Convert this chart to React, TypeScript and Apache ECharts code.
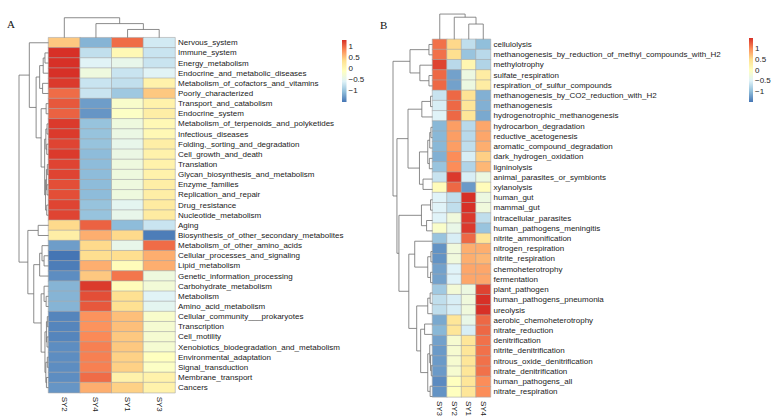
import React, { useEffect, useRef } from 'react';
import * as echarts from 'echarts';

// ---------- Panel A data ----------
const rowsA = [
  'Nervous_system', 'Immune_system', 'Energy_metabolism', 'Endocrine_and_metabolic_diseases',
  'Metabolism_of_cofactors_and_vitamins', 'Poorly_characterized', 'Transport_and_catabolism',
  'Endocrine_system', 'Metabolism_of_terpenoids_and_polyketides', 'Infectious_diseases',
  'Folding,_sorting_and_degradation', 'Cell_growth_and_death', 'Translation',
  'Glycan_biosynthesis_and_metabolism', 'Enzyme_families', 'Replication_and_repair',
  'Drug_resistance', 'Nucleotide_metabolism', 'Aging', 'Biosynthesis_of_other_secondary_metabolites',
  'Metabolism_of_other_amino_acids', 'Cellular_processes_and_signaling', 'Lipid_metabolism',
  'Genetic_information_processing', 'Carbohydrate_metabolism', 'Metabolism', 'Amino_acid_metabolism',
  'Cellular_community___prokaryotes', 'Transcription', 'Cell_motility',
  'Xenobiotics_biodegradation_and_metabolism', 'Environmental_adaptation', 'Signal_transduction',
  'Membrane_transport', 'Cancers',
];
const colsA = ['SY2', 'SY4', 'SY1', 'SY3'];
const sy2A = [0.5, 1.35, 1.45, 1.45, 1.25, 1.0, 1.1, 1.05, 1.25, 1.25, 1.2, 1.25, 1.2, 1.2, 1.15, 1.15, 1.2, 1.2,
  0.4, 0.15, -1.25, -1.5, -1.45, -1.35, -1.1, -1.1, -1.1, -1.4, -1.4, -1.4, -1.35, -1.35, -1.35, -1.35, -1.3];
const sy4A = [-1.1, -0.75, -0.55, -0.35, -0.7, -0.7, -1.25, -1.3, -1.0, -1.0, -1.0, -1.05, -1.05, -1.05, -1.05, -1.05, -1.0, -1.0,
  1.05, 0.65, 0.4, 0.37, 0.65, 0.5, 1.25, 1.15, 1.1, 0.8, 0.8, 0.85, 0.9, 0.9, 0.9, 1.0, 0.65];
const sy1A = [1.0, 0.0, -0.45, -0.7, -0.75, -0.95, -0.2, -0.15, -0.35, -0.4, -0.45, -0.4, -0.35, -0.35, -0.35, -0.35, -0.5, -0.45,
  -1.05, 0.4, -0.45, 0.37, -0.05, 0.95, -0.05, 0.35, 0.35, 0.55, 0.55, 0.5, 0.5, 0.45, 0.45, 0.1, 0.45];
const sy3A = [-0.65, -0.7, -0.7, -0.55, 0.1, 0.5, 0.1, 0.15, 0.0, 0.0, 0.15, 0.1, 0.1, 0.1, 0.15, 0.15, 0.2, 0.2,
  -0.7, -1.45, 1.0, 0.65, 0.65, -0.35, -0.3, -0.55, -0.5, -0.2, -0.25, -0.25, -0.25, -0.1, -0.15, 0.1, 0.1];
const rangeA = [-1.5, 1.3];

// ---------- Panel B data ----------
const rowsB = [
  'cellulolysis', 'methanogenesis_by_reduction_of_methyl_compounds_with_H2', 'methylotrophy',
  'sulfate_respiration', 'respiration_of_sulfur_compounds', 'methanogenesis_by_CO2_reduction_with_H2',
  'methanogenesis', 'hydrogenotrophic_methanogenesis', 'hydrocarbon_degradation', 'reductive_acetogenesis',
  'aromatic_compound_degradation', 'dark_hydrogen_oxidation', 'ligninolysis', 'animal_parasites_or_symbionts',
  'xylanolysis', 'human_gut', 'mammal_gut', 'intracellular_parasites', 'human_pathogens_meningitis',
  'nitrite_ammonification', 'nitrogen_respiration', 'nitrite_respiration', 'chemoheterotrophy',
  'fermentation', 'plant_pathogen', 'human_pathogens_pneumonia', 'ureolysis', 'aerobic_chemoheterotrophy',
  'nitrate_reduction', 'denitrification', 'nitrite_denitrification', 'nitrous_oxide_denitrification',
  'nitrate_denitrification', 'human_pathogens_all', 'nitrate_respiration',
];
const colsB = ['SY3', 'SY2', 'SY1', 'SY4'];
const sy3B = [1.15, 1.15, 1.4, 1.2, 1.2, -0.65, -0.55, -0.5, -1.05, -1.05, -1.05, -1.1, -0.95, -0.65, 0.05,
  -0.5, -0.5, -0.5, -0.1, -0.95, -1.3, -1.3, -1.2, -1.2, -0.9, -0.7, -0.7, -1.15, -1.05, -1.2, -1.25, -1.25, -1.25, -1.35, -1.3];
const sy2B = [0.55, 0.5, -0.75, -1.2, -1.2, 1.2, 1.2, 1.2, 0.9, 0.9, 0.9, 1.0, 1.0, 1.45, 1.2,
  -0.7, -0.7, -0.25, -0.35, -0.55, -0.25, -0.25, -0.5, -0.5, -0.2, -0.55, -0.55, 0.4, 0.4, -0.15, -0.15, -0.15, -0.15, 0.0, 0.0];
const sy1B = [-0.7, -0.95, 0.15, -0.3, -0.3, 0.45, 0.4, 0.4, -0.75, -0.75, -0.7, -0.55, -0.8, -0.55, -1.25,
  1.5, 1.5, 1.45, 1.45, 1.2, 0.8, 0.8, 0.85, 0.85, -0.3, -0.25, -0.25, -0.35, -0.55, 0.4, 0.4, 0.4, 0.4, 0.4, 0.4];
const sy4B = [-1.0, -0.75, -0.8, 0.3, 0.3, -1.1, -1.1, -1.15, 0.85, 0.85, 0.8, 0.6, 0.75, -0.3, 0.05,
  -0.3, -0.25, -0.7, -0.95, 0.4, 0.8, 0.75, 0.85, 0.85, 1.4, 1.5, 1.5, 1.2, 1.2, 1.15, 1.15, 1.15, 1.15, 1.0, 1.0];
const rangeB = [-1.5, 1.5];

// ---------- Dendrograms: [left, right, height] with leaves = display index ----------
type Tree = number | [Tree, Tree, number];
const rowTreeA: Tree = [
  [0, [
    [[[1, 2, 0.12], 3, 0.18], [4, 5, 0.2], 0.3],
    [[6, 7, 0.08], [[[8, 9, 0.05], [10, 11, 0.06], 0.09], [[[12, 13, 0.04], [14, 15, 0.05], 0.07], [16, 17, 0.06], 0.1], 0.13], 0.25],
    0.42], 0.65],
  [[18, 19, 0.35], [
    [[20, [21, 22, 0.15], 0.22], 23, 0.3],
    [[24, [25, 26, 0.08], 0.15], [[[27, 28, 0.04], [29, 30, 0.05], 0.07], [[31, 32, 0.04], [33, 34, 0.07], 0.09], 0.12], 0.25],
    0.5], 0.7],
  1.0];
const colTreeA: Tree = [0, [1, [2, 3, 0.38], 0.65], 0.92];
const rowTreeB: Tree = [
  [[0, 1, 0.09], [2, [3, 4, 0.09], 0.32], 0.57],
  [
    [[[5, 6, 0.05], 7, 0.27], [[[[8, 9, 0.04], 10, 0.07], [11, 12, 0.08], 0.12], [13, 14, 0.24], 0.33], 0.62],
    [[[15, 16, 0.05], [17, 18, 0.15], 0.28],
      [[19, [[20, 21, 0.04], [22, 23, 0.05], 0.12], 0.45],
        [[[24, 25, 0.06], 26, 0.12], [[27, 28, 0.2], [[29, [30, [31, 32, 0.03], 0.05], 0.07], [33, 34, 0.06], 0.12], 0.3], 0.4],
        0.6], 0.85],
    0.9],
  1.0];
const colTreeB: Tree = [0, [1, [2, 3, 0.58], 0.84], 0.96];

const legendTicks = [-1, -0.5, 0, 0.5, 1];
const palette = ['#4575B4', '#91BFDB', '#E0F3F8', '#FFFFBF', '#FEE090', '#FC8D59', '#D73027'];

const FONT = '"Liberation Sans", Arial, sans-serif';
const LINE = '#6e6e6e';

function dendroSegments(tree: Tree, orient: 'row' | 'col'): number[][] {
  const segs: number[][] = [];
  const walk = (n: Tree): [number, number] => {
    if (typeof n === 'number') return [n + 0.5, 0];
    const [a, b, h] = n;
    const [pa, ha] = walk(a);
    const [pb, hb] = walk(b);
    segs.push([pa, ha, pa, h], [pa, h, pb, h], [pb, h, pb, hb]);
    return [(pa + pb) / 2, h];
  };
  walk(tree);
  return segs.map(([p1, h1, p2, h2]) => (orient === 'row' ? [h1, p1, h2, p2] : [p1, h1, p2, h2]));
}

function lineItem(_p: any, api: any) {
  const a = api.coord([api.value(0), api.value(1)]);
  const b = api.coord([api.value(2), api.value(3)]);
  return { type: 'line', shape: { x1: a[0], y1: a[1], x2: b[0], y2: b[1] }, style: { stroke: LINE, lineWidth: 0.8 } };
}

const fmtTick = (v: number) => {
  if (!legendTicks.some((t) => Math.abs(t - v) < 1e-9)) return '';
  return v < 0 ? '\u2212' + String(Math.abs(v)) : String(v);
};

type Panel = {
  rows: string[]; cols: string[]; colsData: number[][]; range: number[];
  rowTree: Tree; colTree: Tree;
  heat: { left: number; top: number; width: number; height: number };
  rowDend: { left: number; width: number };
  colDend: { top: number };
  legend: { left: number; top: number; width: number; height: number };
};

function buildPanel(p: Panel, gi: number, si: number) {
  const grids: any[] = [];
  const xAxes: any[] = [];
  const yAxes: any[] = [];
  const series: any[] = [];
  const hidden = { show: false };
  // heatmap grid
  grids.push({ left: p.heat.left, top: p.heat.top, width: p.heat.width, height: p.heat.height });
  xAxes.push({
    type: 'category', gridIndex: gi, data: p.cols, position: 'bottom',
    axisLine: { show: false }, axisTick: { show: false }, splitLine: { show: false },
    axisLabel: { rotate: -90, margin: 4, fontSize: 8, color: '#222', fontFamily: FONT },
  });
  yAxes.push({
    type: 'category', gridIndex: gi, data: p.rows, inverse: true, position: 'right',
    axisLine: { show: false }, axisTick: { show: false }, splitLine: { show: false },
    axisLabel: { margin: 3, fontSize: 8, color: '#222', fontFamily: FONT, interval: 0 },
  });
  const data: number[][] = [];
  p.colsData.forEach((col, c) => col.forEach((v, r) => data.push([c, r, v])));
  series.push({
    type: 'heatmap', xAxisIndex: gi, yAxisIndex: gi, data,
    itemStyle: { borderColor: '#a8a8a8', borderWidth: 0.6 },
    emphasis: { disabled: true },
  });
  // row dendrogram grid
  grids.push({ left: p.rowDend.left, top: p.heat.top, width: p.rowDend.width, height: p.heat.height });
  xAxes.push({ type: 'value', gridIndex: gi + 1, min: 0, max: 1, inverse: true, ...hidden });
  yAxes.push({ type: 'value', gridIndex: gi + 1, min: 0, max: p.rows.length, inverse: true, ...hidden });
  series.push({
    type: 'custom', xAxisIndex: gi + 1, yAxisIndex: gi + 1, renderItem: lineItem,
    data: dendroSegments(p.rowTree, 'row'), encode: { x: [0, 2], y: [1, 3] }, silent: true,
  });
  // column dendrogram grid
  grids.push({ left: p.heat.left, top: p.colDend.top, width: p.heat.width, height: p.heat.top - p.colDend.top });
  xAxes.push({ type: 'value', gridIndex: gi + 2, min: 0, max: p.cols.length, ...hidden });
  yAxes.push({ type: 'value', gridIndex: gi + 2, min: 0, max: 1, ...hidden });
  series.push({
    type: 'custom', xAxisIndex: gi + 2, yAxisIndex: gi + 2, renderItem: lineItem,
    data: dendroSegments(p.colTree, 'col'), encode: { x: [0, 2], y: [1, 3] }, silent: true,
  });
  // legend grid
  grids.push({ ...p.legend });
  xAxes.push({ type: 'value', gridIndex: gi + 3, min: 0, max: 1, ...hidden });
  yAxes.push({
    type: 'value', gridIndex: gi + 3, min: p.range[0], max: p.range[1], interval: 0.5, position: 'right',
    axisLine: { show: false }, axisTick: { show: false }, splitLine: { show: false },
    axisLabel: { margin: 2, fontSize: 8, color: '#222', fontFamily: FONT, formatter: fmtTick, showMinLabel: true, showMaxLabel: false },
  });
  const [lo, hi] = p.range;
  series.push({
    type: 'custom', xAxisIndex: gi + 3, yAxisIndex: gi + 3, data: [[0, 0]], silent: true,
    renderItem: (_pr: any, api: any) => {
      const a = api.coord([0, hi]);
      const b = api.coord([1, lo]);
      return {
        type: 'rect',
        shape: { x: a[0], y: a[1], width: b[0] - a[0], height: b[1] - a[1] },
        style: {
          fill: new echarts.graphic.LinearGradient(0, 0, 0, 1,
            palette.slice().reverse().map((c, i) => ({ offset: i / (palette.length - 1), color: c }))),
        },
      };
    },
  });
  const visualMap = {
    show: false, type: 'continuous', seriesIndex: si, dimension: 2,
    min: lo, max: hi, inRange: { color: palette },
  };
  return { grids, xAxes, yAxes, series, visualMap };
}

export default function App() {
  const ref = useRef<HTMLDivElement>(null);
  useEffect(() => {
    document.body.style.margin = '0';
    if (!ref.current) return;
    const chart = echarts.init(ref.current, undefined, { renderer: 'svg' });
    const A = buildPanel({
      rows: rowsA, cols: colsA, colsData: [sy2A, sy4A, sy1A, sy3A], range: rangeA,
      rowTree: rowTreeA, colTree: colTreeA,
      heat: { left: 48.5, top: 37.7, width: 126.5, height: 355 },
      rowDend: { left: 19, width: 29.5 },
      colDend: { top: 16 },
      legend: { left: 342, top: 40, width: 4.5, height: 62 },
    }, 0, 0);
    const B = buildPanel({
      rows: rowsB, cols: colsB, colsData: [sy3B, sy2B, sy1B, sy4B], range: rangeB,
      rowTree: rowTreeB, colTree: colTreeB,
      heat: { left: 432.5, top: 39.3, width: 58, height: 362.4 },
      rowDend: { left: 393, width: 39.5 },
      colDend: { top: 13 },
      legend: { left: 749, top: 38, width: 4, height: 64 },
    }, 4, 4);
    chart.setOption({
      animation: false,
      backgroundColor: '#ffffff',
      grid: [...A.grids, ...B.grids],
      xAxis: [...A.xAxes, ...B.xAxes],
      yAxis: [...A.yAxes, ...B.yAxes],
      visualMap: [A.visualMap, B.visualMap],
      series: [...A.series, ...B.series],
      graphic: [
        { type: 'text', left: 7, top: 18, style: { text: 'A', fontSize: 11, fontFamily: '"Liberation Serif", "Times New Roman", serif', fill: '#111' } },
        { type: 'text', left: 380, top: 19, style: { text: 'B', fontSize: 11, fontFamily: '"Liberation Serif", "Times New Roman", serif', fill: '#111' } },
      ],
    });
    return () => chart.dispose();
  }, []);
  return <div ref={ref} style={{ width: 775, height: 419 }} />;
}
